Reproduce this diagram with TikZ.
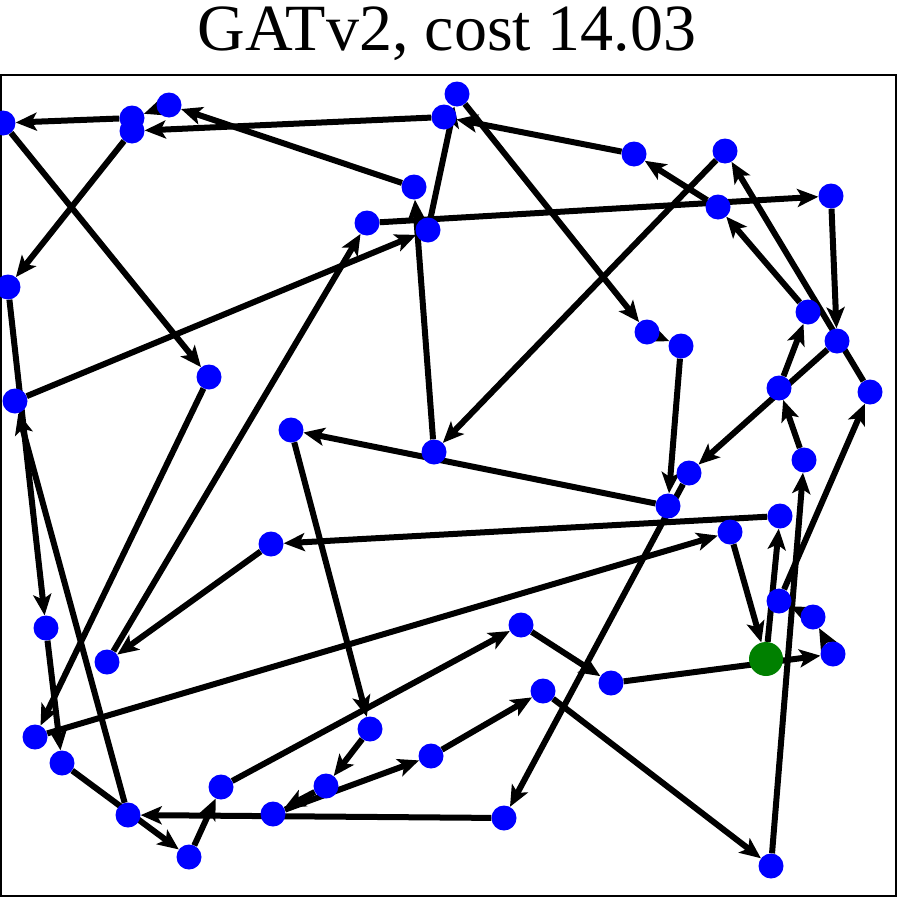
\documentclass[tikz,border=0pt]{standalone}
\usepackage{fontspec}
\setmainfont{Liberation Serif}
\usetikzlibrary{arrows.meta,backgrounds}
\definecolor{nodeblue}{RGB}{0,0,255}
\definecolor{nodegreen}{RGB}{0,128,0}
\begin{document}
\begin{tikzpicture}[x=1pt,y=-1pt,
  city/.style={circle,fill=nodeblue,draw=none,minimum size=25pt,inner sep=0pt},
  depot/.style={circle,fill=nodegreen,draw=none,minimum size=34pt,inner sep=0pt},
  tour/.style={line width=6pt,black,-{Stealth[length=21pt,width=18pt,inset=5pt]}}]
\useasboundingbox (0,0) rectangle (897,897);
\node[anchor=base,font=\fontsize{66}{70}\selectfont] (title) at (447,50) {GATv2, cost 14.03};
\draw[line width=2pt] (1,75) rectangle (896,896);
% cities
\node[city] (A) at (3,123) {};
\node[city] (B1) at (132,118) {};
\node[city] (B2) at (132,131) {};
\node[city] (C) at (169,105) {};
\node[city] (D) at (8,287) {};
\node[city] (E) at (444,117) {};
\node[city] (F) at (457,94) {};
\node[city] (G) at (414,187) {};
\node[city] (H) at (367,223) {};
\node[city] (I) at (428,230) {};
\node[city] (J) at (634,154) {};
\node[city] (K) at (725,151) {};
\node[city] (L) at (718,207) {};
\node[city] (M) at (831,196) {};
\node[city] (N) at (647,332) {};
\node[city] (O) at (681,346) {};
\node[city] (P) at (808,312) {};
\node[city] (Q) at (837,341) {};
\node[city] (R) at (15,401) {};
\node[city] (S) at (209,377) {};
\node[city] (T) at (291,430) {};
\node[city] (U) at (434,452) {};
\node[city] (V) at (870,392) {};
\node[city] (W) at (779,388) {};
\node[city] (X) at (804,460) {};
\node[city] (Y) at (689,473) {};
\node[city] (Z) at (668,506) {};
\node[city] (AA) at (780,516) {};
\node[city] (AB) at (730,532) {};
\node[city] (AC) at (271,544) {};
\node[city] (AD) at (779,601) {};
\node[city] (AE) at (813,617) {};
\node[depot] (AF) at (766,659) {};
\node[city] (AG) at (833,654) {};
\node[city] (AH) at (611,683) {};
\node[city] (AI) at (771,866) {};
\node[city] (AJ) at (46,628) {};
\node[city] (AK) at (107,662) {};
\node[city] (AL) at (35,737) {};
\node[city] (AM) at (62,763) {};
\node[city] (AN) at (128,815) {};
\node[city] (AO) at (189,857) {};
\node[city] (AP) at (221,787) {};
\node[city] (AQ) at (273,814) {};
\node[city] (AR) at (521,625) {};
\node[city] (AS) at (543,691) {};
\node[city] (AT) at (370,729) {};
\node[city] (AU) at (431,756) {};
\node[city] (AV) at (326,786) {};
\node[city] (AW) at (504,818) {};
\begin{scope}[on background layer]
\foreach \a/\b in {I/F,F/N,N/O,O/Z,Z/T,T/AT,AT/AV,AV/AQ,AQ/AU,AU/AS,AS/AI,AI/X,X/W,W/P,P/L,L/J,J/E,E/B2,B2/D,D/AJ,AJ/AM,AM/AO,AO/AP,AP/AR,AR/AH,AH/AG,AG/AE,AE/AD,AD/V,V/K,K/U,U/G,G/C,C/B1,B1/A,A/S,S/AL,AL/AB,AB/AF,AF/AA,AA/AC,AC/AK,AK/H,H/M,M/Q,Q/Y,Y/AW,AW/AN,AN/R,R/I}
  \draw[tour] (\a) -- (\b);
\end{scope}
\end{tikzpicture}
\end{document}
